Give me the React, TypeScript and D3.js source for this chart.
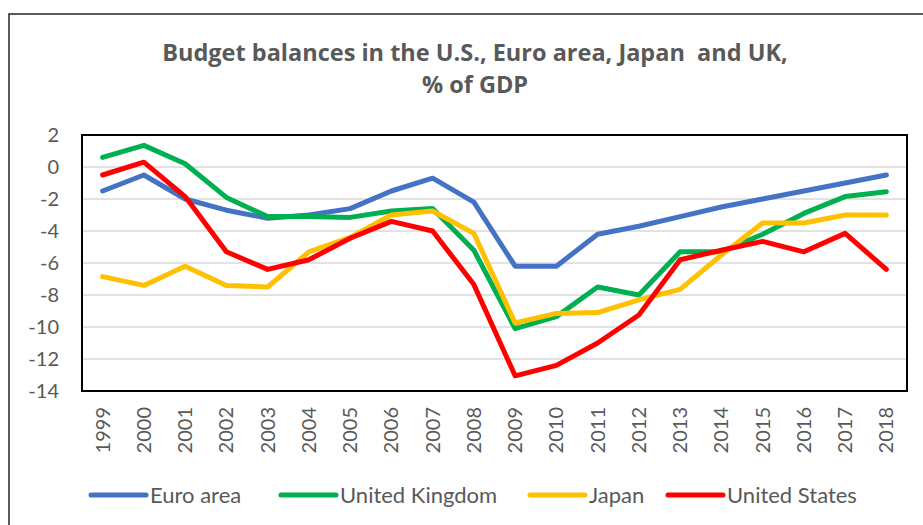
import React from 'react';
import * as d3 from 'd3';

const years = ['1999', '2000', '2001', '2002', '2003', '2004', '2005', '2006', '2007', '2008',
  '2009', '2010', '2011', '2012', '2013', '2014', '2015', '2016', '2017', '2018'];

const euroArea = [-1.5, -0.5, -2.0, -2.7, -3.2, -3.0, -2.6, -1.5, -0.7, -2.2,
  -6.2, -6.2, -4.2, -3.7, -3.1, -2.5, -2.0, -1.5, -1.0, -0.5];
const unitedKingdom = [0.6, 1.35, 0.2, -1.9, -3.1, -3.1, -3.15, -2.75, -2.6, -5.2,
  -10.1, -9.35, -7.5, -8.0, -5.3, -5.3, -4.2, -2.9, -1.85, -1.55];
const japan = [-6.85, -7.4, -6.2, -7.4, -7.5, -5.3, -4.4, -3.0, -2.75, -4.15,
  -9.75, -9.15, -9.1, -8.3, -7.65, -5.5, -3.5, -3.5, -3.0, -3.0];
const unitedStates = [-0.5, 0.3, -1.85, -5.3, -6.4, -5.8, -4.45, -3.4, -4.0, -7.35,
  -13.05, -12.4, -11.0, -9.25, -5.8, -5.2, -4.65, -5.3, -4.15, -6.4];

const seriesNames = ['Euro area', 'United Kingdom', 'Japan', 'United States'];
const seriesColors = ['#4472C4', '#00B050', '#FFC000', '#FF0000'];
const seriesValues = [euroArea, unitedKingdom, japan, unitedStates];
const yTicks = [2, 0, -2, -4, -6, -8, -10, -12, -14];

const titleLines = ['Budget balances in the U.S., Euro area, Japan  and UK,', '% of GDP'];

const App = () => {
  const width = 923;
  const height = 525;
  const plot = { left: 82, right: 907, top: 135, bottom: 391 };
  const font = 'Lato, "Liberation Sans", sans-serif';
  const titleFont = '"Open Sans", Lato, sans-serif';
  const grey = '#595959';

  const x = d3.scaleBand().domain(years).range([plot.left, plot.right]);
  const y = d3.scaleLinear().domain([-14, 2]).range([plot.bottom, plot.top]);
  const cx = (yr: string) => (x(yr) as number) + x.bandwidth() / 2;

  const line = d3.line<number>()
    .x((_, i) => cx(years[i]))
    .y(d => y(d));

  const legendX = [91, 281, 530, 668];

  return (
    <svg width={width} height={height} style={{ position: 'absolute', left: 0, top: 0, background: '#fff' }}>
      <rect x={9} y={14} width={930} height={530} fill="#fff" stroke="#262626" strokeWidth={1.5} />

      {titleLines.map((t, i) => (
        <text key={t} x={475} y={61 + i * 32} textAnchor="middle" fontFamily={titleFont}
          fontWeight="bold" fontSize={23.5} fill={grey} style={{ whiteSpace: 'pre' }}>
          {t}
        </text>
      ))}

      {yTicks.map(t => (
        <g key={t}>
          {t > -14 && t < 2 && (
            <line x1={plot.left} x2={plot.right} y1={y(t)} y2={y(t)} stroke="#D9D9D9" strokeWidth={1.5} />
          )}
          <text x={59} y={y(t)} dy="0.35em" textAnchor="end" fontFamily={font} fontSize={20} fill={grey}>
            {t}
          </text>
        </g>
      ))}

      {years.map(yr => (
        <text key={yr} transform={`translate(${cx(yr) + 7},407) rotate(-90)`} textAnchor="end"
          fontFamily={font} fontSize={20} fill={grey}>
          {yr}
        </text>
      ))}

      {seriesValues.map((vals, i) => (
        <path key={seriesNames[i]} d={line(vals) || ''} fill="none" stroke={seriesColors[i]}
          strokeWidth={5} strokeLinejoin="round" strokeLinecap="round" />
      ))}

      <rect x={plot.left} y={plot.top} width={plot.right - plot.left} height={plot.bottom - plot.top}
        fill="none" stroke="#000" strokeWidth={2} />

      {seriesNames.map((name, i) => (
        <g key={name} transform={`translate(${legendX[i]},495)`}>
          <line x1={0} x2={55} y1={0} y2={0} stroke={seriesColors[i]} strokeWidth={5} strokeLinecap="round" />
          <text x={59} y={0} dy="0.35em" fontFamily={font} fontSize={22} fill={grey}>{name}</text>
        </g>
      ))}
    </svg>
  );
};

export default App;
